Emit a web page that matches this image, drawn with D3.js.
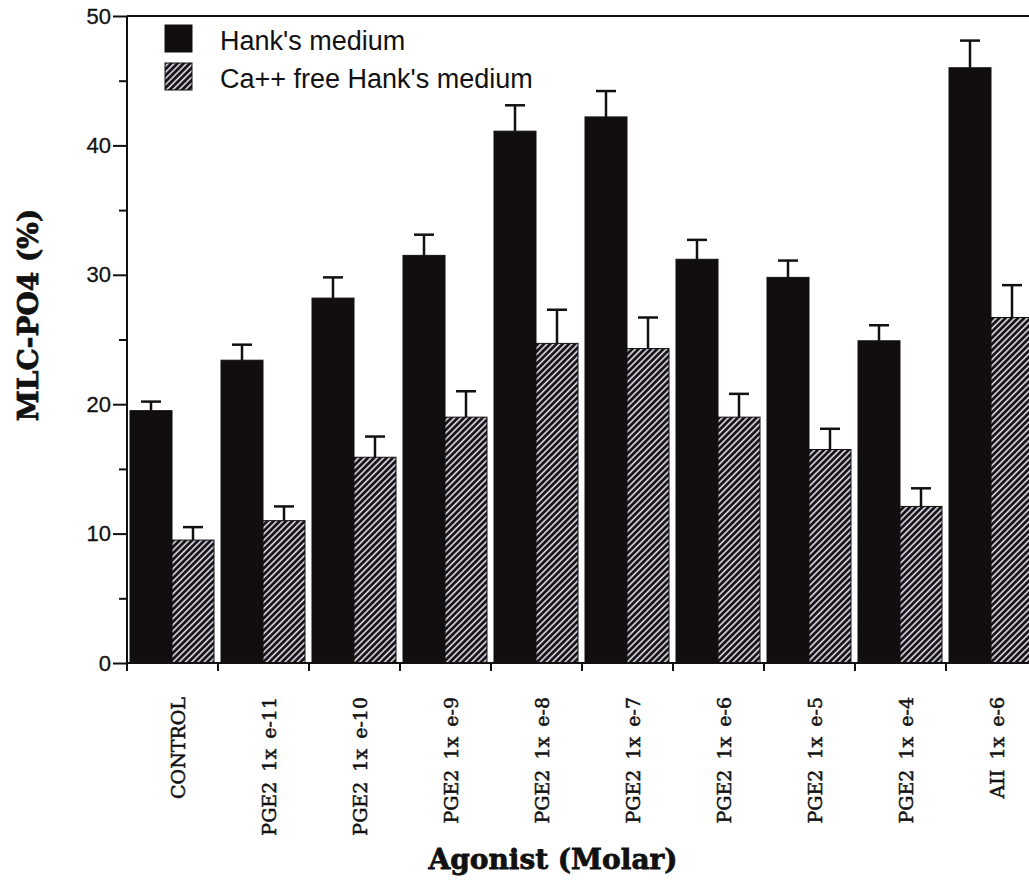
<!DOCTYPE html>
<html><head><meta charset="utf-8">
<script src="https://cdn.jsdelivr.net/npm/d3@7"></script>
<style>body{margin:0;background:#fff}svg{display:block}</style>
</head><body>
<svg id="c" width="1029" height="880"></svg>
<script>
const categories = ["CONTROL","PGE2 1x e-11","PGE2 1x e-10","PGE2 1x e-9","PGE2 1x e-8","PGE2 1x e-7","PGE2 1x e-6","PGE2 1x e-5","PGE2 1x e-4","AII 1x e-6"];
const seriesNames = ["Hank's medium","Ca++ free Hank's medium"];
const hankValues = [19.5, 23.4, 28.2, 31.5, 41.1, 42.2, 31.2, 29.8, 24.9, 46.0];
const hankErrors = [0.7, 1.2, 1.6, 1.6, 2.0, 2.0, 1.5, 1.3, 1.2, 2.1];
const caFreeValues = [9.5, 11.0, 15.9, 19.0, 24.7, 24.3, 19.0, 16.5, 12.1, 26.7];
const caFreeErrors = [1.0, 1.1, 1.6, 2.0, 2.6, 2.4, 1.8, 1.6, 1.4, 2.5];
const yTicks = [0,10,20,30,40,50];
const yMinorTicks = [5,15,25,35,45];

(function(){
const svg = d3.select("#c");
const plotLeft = 127, plotTop = 16, plotBottom = 663, groupW = 91;
const ink = "#111";
const x = d3.scaleBand().domain(categories).range([plotLeft, plotLeft + groupW*categories.length]).padding(0);
const xs = d3.scaleBand().domain(seriesNames).range([3, 87]).padding(0);
const y = d3.scaleLinear().domain([0,50]).range([plotBottom, plotTop]);

const defs = svg.append("defs");
const pat = defs.append("pattern").attr("id","hatch").attr("patternUnits","userSpaceOnUse")
  .attr("width",4.4).attr("height",4.4).attr("patternTransform","rotate(45)");
pat.append("rect").attr("width",4.4).attr("height",4.4).attr("fill","#161214");
pat.append("rect").attr("x",0).attr("width",1.8).attr("height",4.4).attr("fill","#c9c4d4");

const data = categories.map((c,i)=>[
  {cat:c, s:seriesNames[0], v:hankValues[i], e:hankErrors[i]},
  {cat:c, s:seriesNames[1], v:caFreeValues[i], e:caFreeErrors[i]}
]).flat();
const fillFor = s => s===seriesNames[0] ? "#120d0e" : "url(#hatch)";

// error bars
const eb = svg.append("g").attr("stroke",ink).attr("stroke-width",2.5);
data.forEach(d=>{
  const cx = x(d.cat)+xs(d.s)+xs.bandwidth()/2;
  eb.append("line").attr("x1",cx).attr("x2",cx).attr("y1",y(d.v)).attr("y2",y(d.v+d.e));
  eb.append("line").attr("x1",cx-10).attr("x2",cx+10).attr("y1",y(d.v+d.e)).attr("y2",y(d.v+d.e));
});

// bars
svg.append("g").selectAll("rect").data(data).join("rect")
  .attr("x",d=>x(d.cat)+xs(d.s))
  .attr("width",xs.bandwidth())
  .attr("y",d=>y(d.v))
  .attr("height",d=>y(0)-y(d.v))
  .attr("fill",d=>fillFor(d.s))
  .attr("stroke",ink).attr("stroke-width",1);

// frame line
svg.append("line").attr("x1",plotLeft).attr("x2",1029).attr("y1",plotTop).attr("y2",plotTop).attr("stroke",ink).attr("stroke-width",2);

// y axis
const yAxis = d3.axisLeft(y).tickValues(yTicks).tickSize(14).tickPadding(2).tickFormat(d3.format("d"));
const ya = svg.append("g").attr("transform",`translate(${plotLeft},0)`).call(yAxis);
ya.select(".domain").attr("stroke",ink).attr("stroke-width",2).attr("d",`M0,${plotTop}V${plotBottom}`);
ya.selectAll(".tick line").attr("stroke",ink).attr("stroke-width",2);
ya.selectAll(".tick text").attr("font-family","'Liberation Sans', Arial, sans-serif").attr("font-size",22)
  .attr("fill",ink).attr("stroke",ink).attr("stroke-width",0.3);
const yMinor = d3.axisLeft(y).tickValues(yMinorTicks).tickSize(8).tickFormat("");
const ym = svg.append("g").attr("transform",`translate(${plotLeft},0)`).call(yMinor);
ym.select(".domain").remove();
ym.selectAll(".tick line").attr("stroke",ink).attr("stroke-width",2);

// x axis
const xa = svg.append("g").attr("transform",`translate(0,${plotBottom})`);
xa.append("line").attr("x1",plotLeft).attr("x2",1029).attr("stroke",ink).attr("stroke-width",2);
const boundaries = categories.map(c=>x(c));
xa.selectAll("line.tk").data(boundaries).join("line").attr("class","tk")
  .attr("x1",d=>d).attr("x2",d=>d).attr("y1",0).attr("y2",8).attr("stroke",ink).attr("stroke-width",2);
xa.selectAll("text").data(categories).join("text")
  .attr("transform",c=>`translate(${x(c)+groupW/2+5},34) rotate(-90)`)
  .attr("text-anchor","end").attr("dominant-baseline","central")
  .attr("font-family","'DejaVu Serif', serif").attr("font-size",19).attr("word-spacing",4)
  .attr("fill",ink).attr("stroke",ink).attr("stroke-width",0.5)
  .text(c=>c);

// axis titles
svg.append("text").attr("x",553).attr("y",869).attr("text-anchor","middle")
  .attr("font-family","'DejaVu Serif', serif").attr("font-weight","bold").attr("font-size",28)
  .attr("fill",ink).attr("stroke",ink).attr("stroke-width",0.8)
  .text("Agonist (Molar)");
svg.append("text").attr("transform","translate(28,315) rotate(-90)").attr("text-anchor","middle")
  .attr("dominant-baseline","central")
  .attr("font-family","'DejaVu Serif', serif").attr("font-weight","bold").attr("font-size",28)
  .attr("fill",ink).attr("stroke",ink).attr("stroke-width",0.8)
  .text("MLC-PO4 (%)");

// legend
const lg = svg.append("g");
seriesNames.forEach((s,i)=>{
  lg.append("rect").attr("x",165).attr("y",25+i*38).attr("width",27).attr("height",27)
    .attr("fill",fillFor(s)).attr("stroke",ink).attr("stroke-width",1);
  lg.append("text").attr("x",220).attr("y",50+i*38).attr("font-family","'Liberation Sans', Arial, sans-serif")
    .attr("font-size",27).attr("fill",ink).text(s);
});
})();
</script>
</body></html>
